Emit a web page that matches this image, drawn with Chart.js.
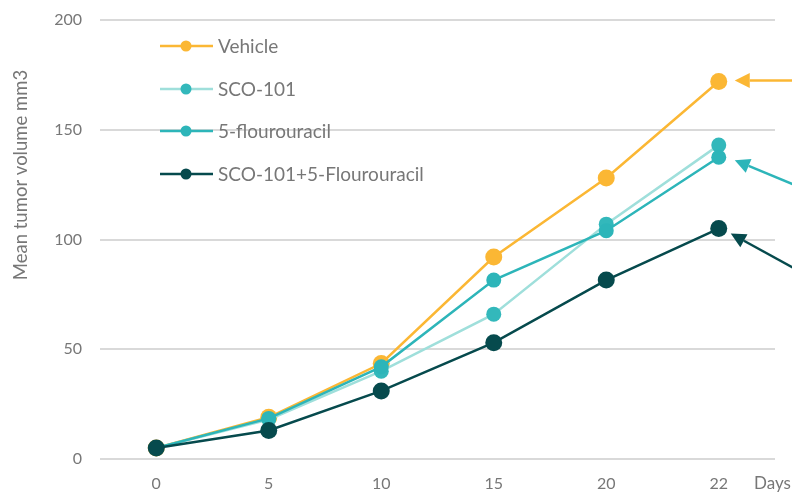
<!DOCTYPE html>
<html>
<head>
<meta charset="utf-8">
<script src="https://cdn.jsdelivr.net/npm/chart.js@4/dist/chart.umd.min.js"></script>
<style>
  html, body { margin: 0; padding: 0; background: #fff; }
  #wrap { width: 792px; height: 494px; }
</style>
</head>
<body>
<div id="wrap"><canvas id="chart" width="792" height="494"></canvas></div>
<script>
const days = ['0', '5', '10', '15', '20', '22'];
const vehicle = [5, 19, 43.5, 92, 128, 172];
const sco101 = [5, 18, 40, 66, 107, 143];
const fluoro = [5, 18.5, 42, 81.5, 104, 137.5];
const combo = [5, 13, 31, 53, 81.5, 105];
const yTicks = [0, 50, 100, 150, 200];

const names = ['Vehicle', 'SCO-101', '5-flourouracil', 'SCO-101+5-Flourouracil'];
const lineColors = ['#fbb734', '#9fdfdb', '#2db5b9', '#064a4d'];
const dotColors = ['#fbb734', '#33b8bb', '#2db5b9', '#064a4d'];
const textColor = '#777777';
const font = 'Lato';

// legend + arrows + axis titles
const extras = {
    id: 'extras',
    afterDraw(chart) {
        const ctx = chart.ctx;
        ctx.save();
        // legend
        const ys = [46, 89, 131, 174];
        ctx.font = '19px "' + font + '"';
        ctx.textBaseline = 'middle';
        for (let i = 0; i < names.length; i++) {
            ctx.strokeStyle = lineColors[i];
            ctx.lineWidth = 2.5;
            ctx.beginPath();
            ctx.moveTo(160, ys[i]);
            ctx.lineTo(213, ys[i]);
            ctx.stroke();
            ctx.fillStyle = dotColors[i];
            ctx.beginPath();
            ctx.arc(186, ys[i], 5.5, 0, Math.PI * 2);
            ctx.fill();
            ctx.fillStyle = textColor;
            ctx.fillText(names[i], 218, ys[i] + 1);
        }

        // arrows pointing at the last points
        const xs = chart.scales.x, yS = chart.scales.y;
        const last = days.length - 1;
        const px = xs.getPixelForValue(last);
        const arrows = [
            {c: '#fbb734', tx: px + 16, ty: yS.getPixelForValue(vehicle[last]) - 1, sx: 800, sy: yS.getPixelForValue(vehicle[last]) - 1},
            {c: '#2db5b9', tx: px + 16, ty: yS.getPixelForValue(fluoro[last]) + 3, sx: 800, sy: yS.getPixelForValue(fluoro[last]) + 30},
            {c: '#064a4d', tx: px + 12, ty: yS.getPixelForValue(combo[last]) + 5, sx: 800, sy: yS.getPixelForValue(combo[last]) + 43}
        ];
        arrows.forEach(a => {
            const ang = Math.atan2(a.sy - a.ty, a.sx - a.tx);
            const hl = 15, hw = 7.5;
            const bx = a.tx + Math.cos(ang) * hl, by = a.ty + Math.sin(ang) * hl;
            ctx.strokeStyle = a.c;
            ctx.fillStyle = a.c;
            ctx.lineWidth = 2.5;
            ctx.beginPath();
            ctx.moveTo(bx, by);
            ctx.lineTo(a.sx, a.sy);
            ctx.stroke();
            ctx.beginPath();
            ctx.moveTo(a.tx, a.ty);
            ctx.lineTo(bx - Math.sin(ang) * hw, by + Math.cos(ang) * hw);
            ctx.lineTo(bx + Math.sin(ang) * hw, by - Math.cos(ang) * hw);
            ctx.closePath();
            ctx.fill();
        });

        // x axis unit
        ctx.font = '17px "' + font + '"';
        ctx.fillStyle = textColor;
        ctx.textAlign = 'left';
        ctx.fillText('Days', 754, 484);

        // y axis title
        ctx.translate(21, 175);
        ctx.rotate(-Math.PI / 2);
        ctx.textAlign = 'center';
        ctx.font = '18.5px "' + font + '"';
        ctx.fillText('Mean tumor volume mm3', 0, 0);
        ctx.restore();
    }
};

function makeSet(label, data, i, radius, order) {
    return {
        label: label,
        data: data,
        borderColor: lineColors[i],
        backgroundColor: dotColors[i],
        pointBackgroundColor: dotColors[i],
        pointBorderColor: dotColors[i],
        pointRadius: radius,
        pointBorderWidth: 0,
        borderWidth: 2.5,
        tension: 0,
        order: order
    };
}

new Chart(document.getElementById('chart'), {
    type: 'line',
    data: {
        labels: days,
        datasets: [
            makeSet(names[0], vehicle, 0, 8.5, 4),
            makeSet(names[1], sco101, 1, 7.5, 3),
            makeSet(names[2], fluoro, 2, 7.5, 2),
            makeSet(names[3], combo, 3, 8.5, 1)
        ]
    },
    options: {
        responsive: false,
        animation: false,
        layout: { padding: { top: 20, right: 17, left: 0, bottom: 0 } },
        plugins: { legend: { display: false }, tooltip: { enabled: false } },
        scales: {
            x: {
                offset: true,
                grid: { display: false, drawTicks: false },
                border: { display: false },
                ticks: { color: textColor, font: { family: font, size: 16 }, padding: 15 },
                afterFit(s) { s.height = 35; s.paddingLeft = 0; s.paddingRight = 0; }
            },
            y: {
                min: 0,
                max: 200,
                afterBuildTicks(s) { s.ticks = yTicks.map(v => ({value: v})); },
                grid: { color: '#d9d9d9', lineWidth: 2, drawTicks: false },
                border: { display: false },
                ticks: { color: textColor, font: { family: font, size: 16 }, padding: 18 },
                afterFit(s) { s.width = 100; s.paddingTop = 0; s.paddingBottom = 0; }
            }
        }
    },
    plugins: [extras]
});
</script>
</body>
</html>
